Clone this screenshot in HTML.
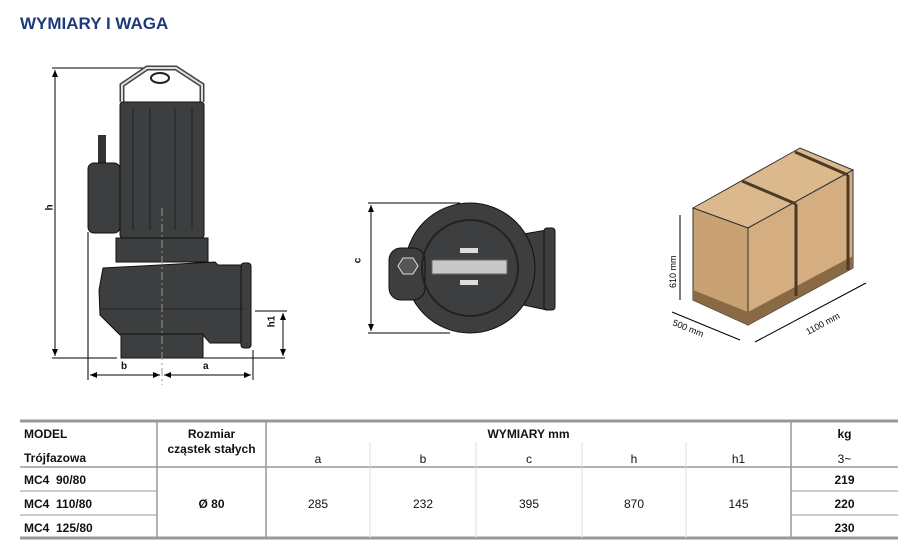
<!DOCTYPE html>
<html><head><meta charset="utf-8"><style>
body{margin:0;width:910px;height:553px;background:#fff;position:relative;font-family:"Liberation Sans",sans-serif;overflow:hidden}
.t{position:absolute;font-size:12px;color:#111;white-space:nowrap}
.b{font-weight:bold}
.c{text-align:center}
</style></head><body>
<div class="t b" style="left:20px;top:14px;font-size:17px;color:#1f3a7a">WYMIARY I WAGA</div>
<svg width="910" height="553" style="position:absolute;left:0;top:0">
<defs><marker id="ar" markerWidth="8" markerHeight="8" refX="7" refY="4" orient="auto-start-reverse"><path d="M0,1 L7,4 L0,7z" fill="#000"/></marker></defs>
<!-- pump side -->
<g stroke="#000" stroke-width="1">
<line x1="52" y1="68" x2="150" y2="68"/>
<line x1="55" y1="70" x2="55" y2="356" marker-start="url(#ar)" marker-end="url(#ar)"/>
<line x1="52" y1="358" x2="117" y2="358"/>
<line x1="203" y1="358" x2="285" y2="358"/>
<line x1="88" y1="232" x2="88" y2="380"/>
<line x1="253" y1="350" x2="253" y2="380"/>
<line x1="90" y1="375" x2="160" y2="375" marker-start="url(#ar)" marker-end="url(#ar)"/>
<line x1="164" y1="375" x2="251" y2="375" marker-start="url(#ar)" marker-end="url(#ar)"/>
<line x1="255" y1="311" x2="287" y2="311"/>
<line x1="283" y1="313" x2="283" y2="356" marker-start="url(#ar)" marker-end="url(#ar)"/>
</g>
<path d="M122,102 L122,85 L147,68 L176,68 L202,85 L202,102" fill="none" stroke="#444" stroke-width="5"/>
<path d="M122,102 L122,85 L147,68 L176,68 L202,85 L202,102" fill="none" stroke="#ddd" stroke-width="2"/>
<ellipse cx="160" cy="78" rx="9" ry="5" fill="#fff" stroke="#222" stroke-width="2"/>
<rect x="120" y="102" width="84" height="136" rx="3" fill="#3c3e40" stroke="#111"/>
<g stroke="#222"><line x1="150" y1="108" x2="150" y2="230"/><line x1="175" y1="108" x2="175" y2="230"/><line x1="133" y1="108" x2="133" y2="230"/><line x1="192" y1="108" x2="192" y2="230"/></g>
<rect x="98" y="135" width="8" height="30" fill="#333"/>
<rect x="88" y="163" width="32" height="70" rx="6" fill="#3c3e40" stroke="#111"/>
<rect x="116" y="238" width="92" height="24" fill="#3c3e40" stroke="#111"/>
<path d="M103,268 L215,262 L218,265 L244,265 L244,343 L210,343 L203,335 L120,335 L100,315 L99,290z" fill="#3c3e40" stroke="#111"/>
<rect x="241" y="263" width="10" height="85" rx="3" fill="#3c3e40" stroke="#111"/>
<rect x="121" y="334" width="82" height="24" fill="#3c3e40" stroke="#111"/>
<line x1="100" y1="309" x2="244" y2="309" stroke="#222"/>
<line x1="162" y1="208" x2="162" y2="385" stroke="#999" stroke-dasharray="8,3,2,3"/>
<!-- top view -->
<g stroke="#000"><line x1="368" y1="203" x2="460" y2="203"/><line x1="368" y1="333" x2="450" y2="333"/>
<line x1="371" y1="205" x2="371" y2="331" marker-start="url(#ar)" marker-end="url(#ar)"/></g>
<path d="M500,238 L547,230 L547,310 L500,300z" fill="#3c3e40" stroke="#111"/>
<rect x="544" y="228" width="11" height="82" rx="3" fill="#3c3e40" stroke="#111"/>
<circle cx="470" cy="268" r="65" fill="#3c3e40" stroke="#111"/>
<rect x="389" y="248" width="36" height="52" rx="12" fill="#3c3e40" stroke="#111"/>
<polygon points="403,258 413,258 418,266 413,274 403,274 398,266" fill="#555" stroke="#ddd"/>
<circle cx="470" cy="268" r="48" fill="none" stroke="#222" stroke-width="2"/>
<rect x="432" y="260" width="75" height="14" fill="#c8c8c8" stroke="#666"/>
<rect x="460" y="248" width="18" height="5" fill="#ddd"/><rect x="460" y="280" width="18" height="5" fill="#ddd"/>
<!-- crate -->
<polygon points="693,208 800,148 853,170 748,228" fill="#dcb98d" stroke="#333"/>
<polygon points="693,208 748,228 748,325 693,300" fill="#c9a274" stroke="#333"/>
<polygon points="748,228 853,170 853,268 748,325" fill="#d4ad80" stroke="#333"/>
<polygon points="693,290 748,312 748,325 693,300" fill="#8a6a45"/>
<polygon points="748,312 853,256 853,268 748,325" fill="#8a6a45"/>
<g stroke="#4a3a28" stroke-width="3"><line x1="742" y1="181" x2="796" y2="204"/><line x1="796" y1="204" x2="796" y2="296"/><line x1="795" y1="152" x2="848" y2="175"/><line x1="848" y1="175" x2="848" y2="270"/></g>
<g stroke="#000"><line x1="672" y1="312" x2="740" y2="340"/><line x1="755" y1="342" x2="866" y2="283"/><line x1="680" y1="215" x2="680" y2="300"/></g>
<text x="0" y="0" font-size="9" transform="translate(676,288) rotate(-90)">610 mm</text>
<text x="0" y="0" font-size="9" transform="translate(672,325) rotate(22)">500 mm</text>
<text x="0" y="0" font-size="9" transform="translate(808,335) rotate(-28)">1100 mm</text>
<!-- table lines -->
<g stroke="#999"><line x1="20" y1="421" x2="898" y2="421" stroke-width="3"/><line x1="20" y1="538" x2="898" y2="538" stroke-width="3"/>
<line x1="20" y1="467" x2="898" y2="467" stroke-width="1.5"/>
<line x1="791" y1="491" x2="898" y2="491"/><line x1="791" y1="515" x2="898" y2="515"/>
<line x1="20" y1="491" x2="157" y2="491"/><line x1="20" y1="515" x2="157" y2="515"/>
<line x1="157" y1="421" x2="157" y2="538" stroke-width="1.5"/><line x1="266" y1="421" x2="266" y2="538" stroke-width="1.5"/><line x1="791" y1="421" x2="791" y2="538" stroke-width="1.5"/>
<g stroke="#ddd"><line x1="370" y1="442" x2="370" y2="538"/><line x1="476" y1="442" x2="476" y2="538"/><line x1="582" y1="442" x2="582" y2="538"/><line x1="686" y1="442" x2="686" y2="538"/></g>
</g>
</svg>
<div class="t b" style="left:47px;top:202px;transform:rotate(-90deg);font-size:10px">h</div>
<div class="t b" style="left:355px;top:255px;transform:rotate(-90deg);font-size:10px">c</div>
<div class="t b" style="left:266px;top:316px;transform:rotate(-90deg);font-size:10px">h1</div>
<div class="t b" style="left:121px;top:361px;font-size:10px">b</div>
<div class="t b" style="left:203px;top:361px;font-size:10px">a</div>
<div class="t b" style="left:24px;top:427px">MODEL</div>
<div class="t b" style="left:24px;top:451px">Trójfazowa</div>
<div class="t b c" style="left:157px;width:109px;top:427px;line-height:15px">Rozmiar<br>cząstek stałych</div>
<div class="t b c" style="left:266px;width:525px;top:427px">WYMIARY mm</div>
<div class="t b c" style="left:791px;width:107px;top:427px">kg</div>
<div class="t c" style="left:266px;width:104px;top:452px">a</div>
<div class="t c" style="left:370px;width:106px;top:452px">b</div>
<div class="t c" style="left:476px;width:106px;top:452px">c</div>
<div class="t c" style="left:582px;width:104px;top:452px">h</div>
<div class="t c" style="left:686px;width:105px;top:452px">h1</div>
<div class="t c" style="left:791px;width:107px;top:452px">3~</div>
<div class="t b" style="left:24px;top:473px">MC4&nbsp; 90/80</div>
<div class="t b" style="left:24px;top:497px">MC4&nbsp; 110/80</div>
<div class="t b" style="left:24px;top:521px">MC4&nbsp; 125/80</div>
<div class="t b c" style="left:157px;width:109px;top:497px">Ø 80</div>
<div class="t c" style="left:266px;width:104px;top:497px">285</div>
<div class="t c" style="left:370px;width:106px;top:497px">232</div>
<div class="t c" style="left:476px;width:106px;top:497px">395</div>
<div class="t c" style="left:582px;width:104px;top:497px">870</div>
<div class="t c" style="left:686px;width:105px;top:497px">145</div>
<div class="t b c" style="left:791px;width:107px;top:473px">219</div>
<div class="t b c" style="left:791px;width:107px;top:497px">220</div>
<div class="t b c" style="left:791px;width:107px;top:521px">230</div>
</body></html>
